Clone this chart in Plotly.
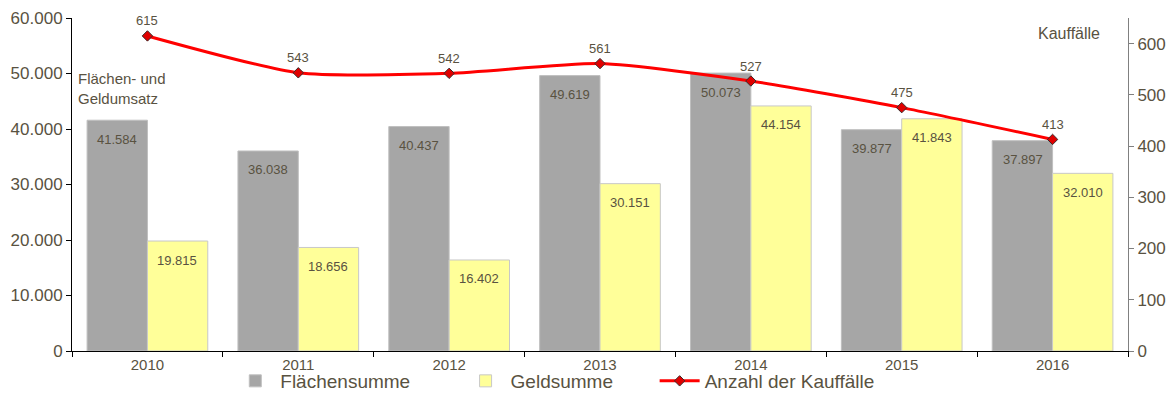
import plotly.graph_objects as go

years = ["2010", "2011", "2012", "2013", "2014", "2015", "2016"]
flaechensumme = [41584, 36038, 40437, 49619, 50073, 39877, 37897]
geldsumme = [19815, 18656, 16402, 30151, 44154, 41843, 32010]
kauffaelle = [615, 543, 542, 561, 527, 475, 413]

TEXT = "#595241"
FONT = "Liberation Sans, Arial, sans-serif"


def de_num(v):
    return f"{v:,}".replace(",", ".")


fig = go.Figure()

fig.add_trace(go.Bar(
    x=years, y=flaechensumme, name="Flächensumme", legend="legend",
    marker=dict(color="#A6A6A6", line=dict(color="#BFBFBF", width=1)),
))
fig.add_trace(go.Bar(
    x=years, y=geldsumme, name="Geldsumme", legend="legend2",
    marker=dict(color="#FFFF99", line=dict(color="#C8C8C8", width=1)),
))
fig.add_trace(go.Scatter(
    x=years, y=kauffaelle, name="Anzahl der Kauffälle", yaxis="y2",
    legend="legend3",
    mode="lines+markers", cliponaxis=False,
    line=dict(color="#FF0000", width=3, shape="spline", smoothing=0.6),
    marker=dict(symbol="diamond", size=8, color="#E00000",
                line=dict(color="#3A2A2A", width=1)),
))

# value labels: inside the top of each bar, above each line point
# (category positions given by index on the category axis)
labels = []
for i, v in enumerate(flaechensumme):
    labels.append(dict(x=i, y=v, xref="x", yref="y", xshift=-30, yshift=-19,
                       text=de_num(v), showarrow=False,
                       font=dict(size=13, color=TEXT)))
for i, v in enumerate(geldsumme):
    labels.append(dict(x=i, y=v, xref="x", yref="y", xshift=30, yshift=-19,
                       text=de_num(v), showarrow=False,
                       font=dict(size=13, color=TEXT)))
for i, v in enumerate(kauffaelle):
    labels.append(dict(x=i, y=v, xref="x", yref="y2", yshift=15,
                       text=str(v), showarrow=False,
                       font=dict(size=13, color=TEXT)))

labels += [
    dict(text="Flächen- und<br>Geldumsatz", xref="paper", yref="paper",
         x=0.004, y=0.85, xanchor="left", yanchor="top", align="left",
         showarrow=False, font=dict(size=15, color=TEXT)),
    dict(text="Kauffälle", xref="paper", yref="paper",
         x=0.975, y=0.985, xanchor="right", yanchor="top", align="right",
         showarrow=False, font=dict(size=16, color=TEXT)),
]


def legend_box(x):
    return dict(orientation="h", xref="container", yref="container",
                x=x, xanchor="left", y=-0.027, yanchor="bottom",
                bgcolor="rgba(0,0,0,0)", itemwidth=40,
                font=dict(size=19, color=TEXT))


fig.update_layout(
    width=1169, height=400,
    margin=dict(l=72, r=41, t=18, b=49, autoexpand=False),
    paper_bgcolor="white", plot_bgcolor="white",
    separators=",.",
    font=dict(family=FONT, color=TEXT, size=14),
    barmode="group", bargap=0.2, bargroupgap=0,
    showlegend=True,
    legend=legend_box(0.197),
    legend2=legend_box(0.394),
    legend3=legend_box(0.560),
    xaxis=dict(
        type="category", tickson="boundaries", ticks="outside", ticklen=5,
        tickcolor="#000000", showline=True, linecolor="#000000", linewidth=1,
        showgrid=False, tickfont=dict(size=15, color=TEXT),
    ),
    yaxis=dict(
        range=[0, 60000], dtick=10000, tickformat=",.0f",
        showline=True, linecolor="#000000", linewidth=1,
        ticks="outside", ticklen=5, tickcolor="#000000",
        showgrid=False, zeroline=False, tickfont=dict(size=17, color=TEXT),
    ),
    yaxis2=dict(
        overlaying="y", side="right", range=[0, 650], dtick=100,
        showline=True, linecolor="#808080", linewidth=1,
        ticks="outside", ticklen=5, tickcolor="#808080",
        showgrid=False, zeroline=False, tickfont=dict(size=17, color=TEXT),
    ),
    annotations=labels,
)

fig.write_html("out.html")
